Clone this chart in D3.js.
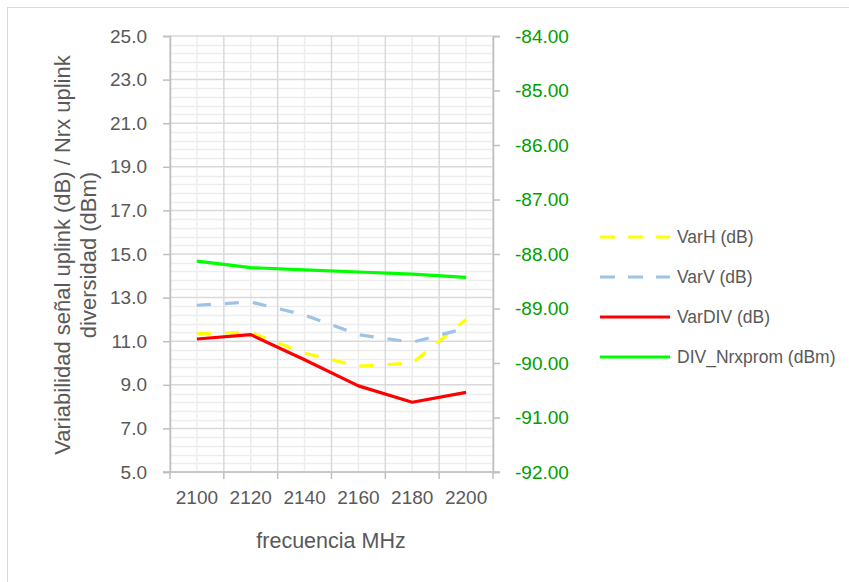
<!DOCTYPE html>
<html><head><meta charset="utf-8">
<script src="https://cdn.jsdelivr.net/npm/d3@7/dist/d3.min.js"></script>
<style>
body{margin:0;background:#fff;}
text{font-family:"Liberation Sans",Arial,sans-serif;}
</style></head>
<body>
<svg id="chart" width="849" height="582"></svg>
<script>
const categories = ["2100","2120","2140","2160","2180","2200"];
const varH   = [11.35, 11.4, 10.45, 9.85, 10.0, 12.0];
const varV   = [12.65, 12.8, 12.2, 11.3, 10.95, 11.6];
const varDIV = [11.1, 11.3, 10.15, 8.95, 8.2, 8.65];
const divNrx = [-88.13, -88.25, -88.29, -88.33, -88.37, -88.43];
const leftTicks = [5,7,9,11,13,15,17,19,21,23,25];
const rightTicks = [-92,-91,-90,-89,-88,-87,-86,-85,-84];
const seriesNames = ["VarH (dB)","VarV (dB)","VarDIV (dB)","DIV_Nrxprom (dBm)"];

const svg = d3.select("#chart");
const L=170, R=493, T=36, B=472;
const x = d3.scaleBand().domain(categories).range([L,R]).padding(0);
const yL = d3.scaleLinear().domain([5,25]).range([B,T]);
const yR = d3.scaleLinear().domain([-92,-84]).range([B,T]);
const cx = c => x(c) + x.bandwidth()/2;

// outer frame
svg.append("rect").attr("x",7.5).attr("y",7.5).attr("width",900).attr("height",900)
  .attr("fill","none").attr("stroke","#d9d9d9").attr("stroke-width",1);

const g = svg.append("g");
const minorY = d3.range(5,25.001,0.4).filter(v=>Math.abs((v-5)/2 - Math.round((v-5)/2))>1e-6);
g.selectAll(".mh").data(minorY).enter().append("line")
  .attr("x1",L).attr("x2",R).attr("y1",d=>Math.round(yL(d))+0.5).attr("y2",d=>Math.round(yL(d))+0.5)
  .attr("stroke","#ededed").attr("stroke-width",1.5);
g.selectAll(".mv").data(categories).enter().append("line")
  .attr("y1",T).attr("y2",B).attr("x1",d=>cx(d)).attr("x2",d=>cx(d))
  .attr("stroke","#ededed").attr("stroke-width",1.5);
g.selectAll(".Mh").data(leftTicks).enter().append("line")
  .attr("x1",L).attr("x2",R).attr("y1",d=>yL(d)).attr("y2",d=>yL(d))
  .attr("stroke","#d9d9d9").attr("stroke-width",1.5);
const bounds = categories.map(c=>x(c)).concat([R]);
g.selectAll(".Mv").data(bounds).enter().append("line")
  .attr("y1",T).attr("y2",B).attr("x1",d=>d).attr("x2",d=>d)
  .attr("stroke","#d9d9d9").attr("stroke-width",1.5);

const axisColor = "#bfbfbf";
const leftAxis = svg.append("g").attr("transform",`translate(${L},0)`)
  .call(d3.axisLeft(yL).tickValues(leftTicks).tickSize(7).tickPadding(16).tickFormat(d=>d.toFixed(1)));
const rightAxis = svg.append("g").attr("transform",`translate(${R},0)`)
  .call(d3.axisRight(yR).tickValues(rightTicks).tickSize(7).tickPadding(15).tickFormat(d=>d.toFixed(2)));
const bottomAxis = svg.append("g").attr("transform",`translate(0,${B})`)
  .call(d3.axisBottom(x).tickSize(0).tickPadding(15));
svg.append("g").selectAll("line").data(bounds).enter().append("line")
  .attr("x1",d=>d).attr("x2",d=>d).attr("y1",B).attr("y2",B+7)
  .attr("stroke",axisColor).attr("stroke-width",1.5);
svg.append("line").attr("x1",L-7).attr("x2",R+7).attr("y1",B).attr("y2",B)
  .attr("stroke",axisColor).attr("stroke-width",1.5);

[leftAxis,rightAxis,bottomAxis].forEach(a=>{
  a.select(".domain").attr("stroke",axisColor).attr("stroke-width",1.5);
  a.selectAll(".tick line").attr("stroke",axisColor).attr("stroke-width",1.5);
  a.selectAll("text").attr("font-size",19).attr("font-family","'Liberation Sans',Arial,sans-serif");
});
leftAxis.selectAll("text").attr("fill","#595959");
bottomAxis.selectAll("text").attr("fill","#595959").attr("dy","0.9em");
rightAxis.selectAll("text").attr("fill","#009e00");
bottomAxis.select(".domain").remove();

const lineL = d3.line().x((d,i)=>cx(categories[i])).y(d=>yL(d));
const lineR = d3.line().x((d,i)=>cx(categories[i])).y(d=>yR(d));
const series = [
  {name:seriesNames[0], data:varH, gen:lineL, color:"#ffff00", dash:"14,14"},
  {name:seriesNames[1], data:varV, gen:lineL, color:"#9dc3e6", dash:"14,14"},
  {name:seriesNames[2], data:varDIV, gen:lineL, color:"#ff0000", dash:null},
  {name:seriesNames[3], data:divNrx, gen:lineR, color:"#00ff00", dash:null}
];
series.forEach(s=>{
  svg.append("path").attr("d",s.gen(s.data)).attr("fill","none")
    .attr("stroke",s.color).attr("stroke-width",3.2)
    .attr("stroke-dasharray",s.dash).attr("stroke-linejoin","round");
});

svg.append("text").attr("x",331).attr("y",548).attr("text-anchor","middle")
  .attr("font-size",21.5).attr("fill","#595959").text("frecuencia MHz");
const yt = svg.append("text").attr("transform","translate(62,255) rotate(-90)")
  .attr("text-anchor","middle").attr("font-size",22).attr("fill","#595959");
yt.append("tspan").attr("x",0).attr("dy","0.35em").text("Variabilidad señal uplink (dB) / Nrx uplink");
yt.append("tspan").attr("x",0).attr("dy","1.2em").text("diversidad (dBm)");

const lg = svg.append("g");
series.forEach((s,i)=>{
  const yy = 237 + i*40;
  lg.append("line").attr("x1",600).attr("x2",670).attr("y1",yy).attr("y2",yy)
    .attr("stroke",s.color).attr("stroke-width",3.2).attr("stroke-dasharray",s.dash?"15,13":null);
  lg.append("text").attr("x",677).attr("y",yy).attr("dy","0.35em")
    .attr("font-size",17.5).attr("fill","#595959").text(s.name);
});
</script>
</body></html>
